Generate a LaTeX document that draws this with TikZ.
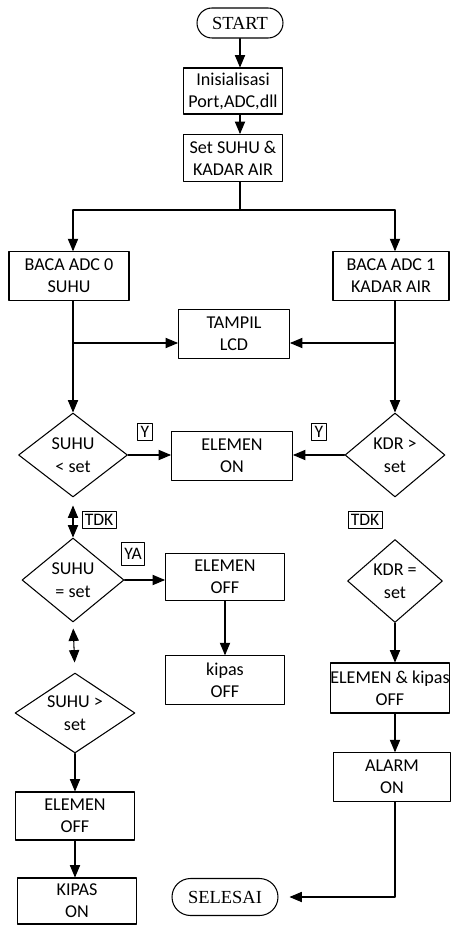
\documentclass[tikz,border=0pt]{standalone}
\usepackage{fontspec}
\setmainfont{Carlito}
\newfontfamily\termfont{Liberation Serif}
\usetikzlibrary{arrows,shapes.geometric,shapes.misc}

\begin{document}
\begin{tikzpicture}[line cap=round,line join=round,>=triangle 45,x=0.02cm,y=-0.02cm,
  line width=0.6pt,
  proses/.style={draw,rectangle,align=center,inner sep=0pt,minimum width=2.38cm,minimum height=0.97cm,font=\fontsize{10.3}{12.5}\selectfont},
  kondisi/.style={draw,diamond,aspect=1.3,align=center,inner sep=0pt,font=\fontsize{10.3}{13}\selectfont},
  terminal/.style={draw,rounded rectangle,inner sep=0pt,font=\termfont\fontsize{10.5}{12}\selectfont},
  ket/.style={draw,inner sep=1.6pt,line width=0.5pt,font=\fontsize{10}{12}\selectfont}]
\useasboundingbox (0,0) rectangle (450,926);

\node[terminal,minimum width=1.72cm,minimum height=0.6cm] (start) at (240,23) {START};
\node[proses,minimum width=1.98cm,minimum height=0.92cm] (init) at (233,91) {Inisialisasi\\Port,ADC,dll};
\node[proses,minimum width=1.98cm,minimum height=0.94cm] (setp) at (233,158) {Set SUHU \&\\KADAR AIR};

\node[proses,minimum width=2.4cm] (adc0) at (69,276) {BACA ADC 0\\SUHU};
\node[proses,minimum width=2.32cm] (adc1) at (391,276) {BACA ADC 1\\KADAR AIR};
\node[proses,minimum width=2.22cm] (lcd) at (234,334) {TAMPIL\\LCD};

\node[kondisi,minimum width=2.18cm,minimum height=1.68cm] (suhu1) at (73,455) {SUHU\\< set};
\node[proses,minimum width=2.42cm] (eon) at (232,456) {ELEMEN\\ON};
\node[kondisi,minimum width=2.0cm,minimum height=1.68cm] (kdr1) at (395,455) {KDR >\\set};

\node[kondisi,minimum width=2.04cm,minimum height=1.68cm] (suhu2) at (73,580) {SUHU\\= set};
\node[proses,minimum width=2.38cm,minimum height=0.94cm] (eoff) at (225,577) {ELEMEN\\OFF};
\node[proses,minimum width=2.38cm] (koff) at (225,680) {kipas\\OFF};
\node[kondisi,minimum width=1.9cm,minimum height=1.66cm] (kdr2) at (395,581) {KDR =\\set};

\node[kondisi,minimum width=2.4cm,minimum height=1.6cm] (suhu3) at (75,713) {SUHU >\\set};
\node[proses,minimum width=2.38cm,minimum height=1.0cm] (ekoff) at (390,688) {ELEMEN \& kipas\\OFF};
\node[proses,minimum width=2.34cm] (alarm) at (392,777) {ALARM\\ON};

\node[proses,minimum width=2.38cm,minimum height=0.96cm] (eoff2) at (75,816) {ELEMEN\\OFF};
\node[proses,minimum width=2.38cm,minimum height=0.92cm] (kon) at (77,901) {KIPAS\\ON};
\node[terminal,minimum width=2.12cm,minimum height=0.74cm] (selesai) at (225,897) {SELESAI};

\node[ket] (y1) at (145,432) {Y};
\node[ket] (y2) at (319,432) {Y};
\node[ket] (tdk1) at (99,520) {TDK};
\node[ket] (tdk2) at (365,520) {TDK};
\node[ket,minimum height=0.46cm] (ya) at (133,554) {YA};

\coordinate (cabang) at (240,210);
\coordinate (cabangL) at (73,210);
\coordinate (cabangR) at (395,210);
\coordinate (lcdL) at (73,343);
\coordinate (lcdR) at (395,343);

\draw[->] (start.south) -- (start.south |- init.north);
\draw[->] (start.south |- init.south) -- (start.south |- setp.north);
\draw (start.south |- setp.south) -- (cabang);
\draw (cabangL) -- (cabangR);
\draw[->] (cabangL) -- (cabangL |- adc0.north);
\draw[->] (cabangR) -- (cabangR |- adc1.north);

\draw[->] (cabangL |- adc0.south) -- (suhu1.north);
\draw[->] (cabangR |- adc1.south) -- (kdr1.north);
\draw[->] (lcdL) -- (lcdL -| lcd.west);
\draw[->] (lcdR) -- (lcdR -| lcd.east);

\draw[->] (suhu1.east) -- (suhu1.east -| eon.west);
\draw[->] (kdr1.west) -- (kdr1.west -| eon.east);
\draw[<->,shorten <=0.16cm] (suhu1.south) -- (suhu2.north);
\draw[->] (suhu2.east) -- (suhu2.east -| eoff.west);
\draw[->] (eoff.south -| koff.north) -- (koff.north);
\draw[<->,shorten <=0.12cm,shorten >=0.2cm] (suhu2.south) -- (suhu3.north);

\draw[->] (suhu3.south) -- (suhu3.south |- eoff2.north);
\draw[->] (suhu3.south |- eoff2.south) -- (suhu3.south |- kon.north);

\draw[->] (kdr2.south) -- (kdr2.south |- ekoff.north);
\draw[->] (kdr2.south |- ekoff.south) -- (kdr2.south |- alarm.north);
\draw[->,shorten >=0.22cm] (kdr2.south |- alarm.south) -- (kdr2.south |- selesai.east) -- (selesai.east);

\end{tikzpicture}
\end{document}
